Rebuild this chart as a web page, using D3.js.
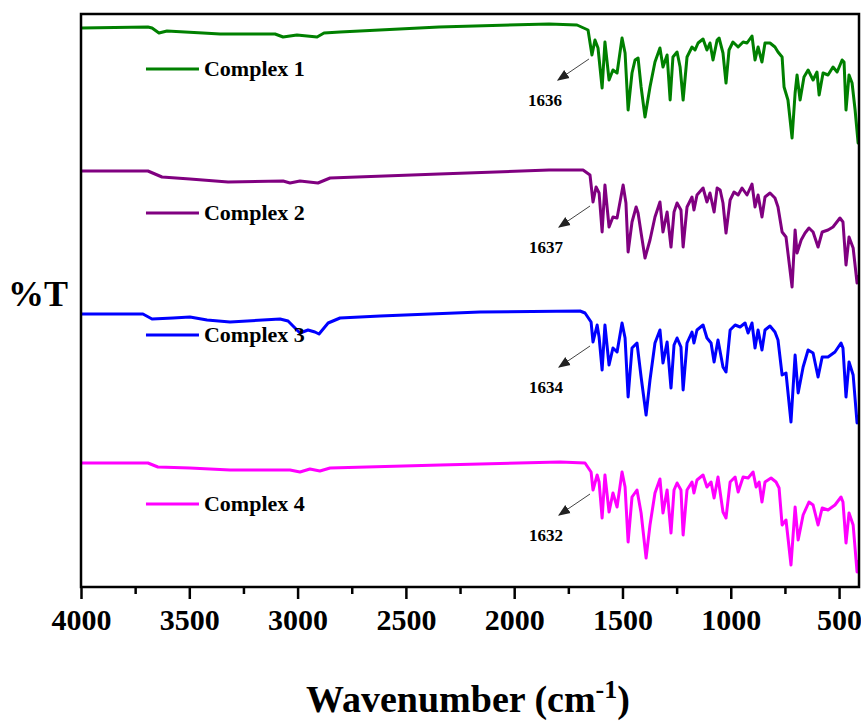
<!DOCTYPE html>
<html>
<head>
<meta charset="utf-8">
<script src="https://cdn.jsdelivr.net/npm/d3@7"></script>
<style>
  body { margin: 0; background: #fff; }
  svg text { font-family: "Liberation Serif", "Times New Roman", serif; font-weight: bold; }
</style>
</head>
<body>
<svg id="chart" width="861" height="722"></svg>
<script>
// x ticks (wavenumber, cm-1)
const majorTicks = [4000, 3500, 3000, 2500, 2000, 1500, 1000, 500];
const minorTicks = [3750, 3250, 2750, 2250, 1750, 1250, 750];

const seriesNames = ["Complex 1", "Complex 2", "Complex 3", "Complex 4"];
const seriesColors = ["#008000", "#800080", "#0000ff", "#ff00ff"];

// [wavenumber, stacked %T]
const complex1 = [
  [4000, 55.9], [3691, 56.0], [3672, 55.9], [3640, 55.4], [3603, 55.6], [3437, 55.4], [3358, 55.3],
  [3104, 55.3], [3067, 55.0], [3003, 55.2], [2910, 55.0], [2878, 55.4], [2804, 55.5], [2347, 56.0],
  [1839, 56.3], [1710, 56.2], [1659, 55.7], [1641, 53.2], [1627, 54.7], [1613, 53.9], [1594, 49.9],
  [1581, 54.5], [1562, 50.7], [1544, 51.7], [1525, 51.4], [1502, 54.9], [1488, 53.4], [1474, 47.7],
  [1456, 51.4], [1442, 52.7], [1428, 52.9], [1414, 50.0], [1396, 47.0], [1373, 50.0], [1350, 52.5],
  [1327, 53.9], [1313, 52.0], [1294, 53.2], [1280, 48.7], [1267, 53.0], [1248, 53.5], [1234, 52.0],
  [1220, 48.7], [1202, 53.0], [1179, 54.0], [1165, 53.7], [1151, 54.4], [1128, 54.8], [1110, 53.7],
  [1096, 54.4], [1082, 52.7], [1063, 54.7], [1054, 54.9], [1036, 53.4], [1022, 50.4], [1008, 53.7],
  [990, 54.5], [966, 54.0], [943, 54.5], [925, 54.4], [902, 55.1], [888, 52.7], [874, 54.0],
  [856, 52.5], [842, 54.4], [819, 54.4], [796, 54.0], [782, 53.5], [763, 53.0], [754, 50.0],
  [736, 48.7], [717, 44.9], [703, 49.4], [694, 51.2], [680, 48.7], [662, 51.0], [643, 51.7],
  [620, 50.7], [602, 51.5], [592, 49.2], [574, 51.4], [551, 51.2], [528, 52.0], [509, 51.5],
  [486, 52.7], [477, 52.5], [468, 47.7], [454, 51.2], [440, 50.4], [426, 47.7], [412, 44.4], [408, 45.2]
];
const complex2 = [
  [4000, 41.6], [3691, 41.6], [3626, 41.0], [3497, 40.8], [3321, 40.5], [3067, 40.6], [3035, 40.4],
  [2989, 40.6], [2906, 40.4], [2850, 40.9], [2347, 41.3], [1839, 41.7], [1682, 41.7], [1650, 41.2],
  [1636, 38.5], [1622, 40.0], [1608, 39.4], [1594, 35.5], [1581, 40.2], [1562, 36.0], [1544, 37.0],
  [1525, 36.9], [1497, 40.2], [1484, 38.4], [1474, 33.5], [1456, 36.5], [1437, 38.0], [1428, 37.4],
  [1414, 35.4], [1396, 32.9], [1373, 34.7], [1350, 37.0], [1327, 38.5], [1313, 35.5], [1294, 37.5],
  [1276, 34.0], [1262, 37.5], [1248, 38.4], [1230, 37.7], [1220, 34.0], [1202, 38.0], [1179, 39.0],
  [1170, 37.7], [1156, 39.2], [1128, 39.9], [1110, 38.5], [1096, 39.4], [1077, 37.5], [1063, 39.9],
  [1049, 39.7], [1036, 38.4], [1022, 35.4], [1003, 38.7], [985, 39.5], [966, 39.2], [948, 39.9],
  [925, 39.2], [902, 40.3], [888, 38.0], [874, 39.2], [856, 37.0], [842, 39.0], [819, 39.4],
  [796, 38.9], [782, 38.0], [763, 35.5], [745, 35.0], [717, 30.0], [703, 35.7], [694, 33.4],
  [675, 34.7], [657, 35.4], [639, 35.9], [620, 35.5], [597, 34.0], [578, 35.5], [551, 35.7],
  [528, 36.0], [496, 36.9], [482, 36.5], [468, 32.2], [454, 35.0], [435, 33.9], [417, 30.4], [408, 31.2]
];
const complex3 = [
  [4000, 27.3], [3714, 27.3], [3672, 26.8], [3575, 26.9], [3497, 27.0], [3418, 26.7], [3312, 26.5],
  [3081, 26.8], [3044, 26.6], [2989, 25.4], [2952, 25.7], [2920, 25.5], [2901, 25.3], [2859, 26.4],
  [2804, 26.9], [2619, 27.1], [2158, 27.5], [1696, 27.6], [1673, 27.4], [1645, 26.5], [1636, 24.5],
  [1617, 26.2], [1608, 25.0], [1594, 21.7], [1581, 26.2], [1562, 22.2], [1544, 23.9], [1525, 23.5],
  [1502, 26.4], [1488, 24.9], [1474, 19.0], [1456, 23.9], [1433, 24.4], [1414, 21.0], [1391, 17.2],
  [1373, 20.7], [1350, 24.4], [1327, 25.7], [1313, 22.4], [1294, 24.5], [1276, 19.9], [1262, 24.2],
  [1248, 24.9], [1230, 24.0], [1220, 19.7], [1202, 24.4], [1179, 25.5], [1170, 24.4], [1156, 25.7],
  [1128, 26.2], [1110, 24.9], [1091, 24.4], [1077, 22.5], [1059, 24.7], [1036, 22.0], [1022, 21.5],
  [1003, 25.7], [980, 26.2], [957, 26.0], [934, 26.4], [920, 25.4], [902, 26.4], [888, 23.9],
  [874, 25.7], [856, 23.7], [842, 25.7], [819, 26.1], [796, 25.5], [782, 24.7], [763, 21.2],
  [745, 21.4], [722, 16.5], [703, 23.2], [689, 19.4], [666, 22.0], [643, 23.7], [620, 23.4],
  [597, 21.0], [578, 23.0], [551, 23.0], [519, 23.5], [491, 24.4], [482, 23.9], [468, 19.0],
  [454, 22.5], [435, 21.2], [417, 16.4], [408, 17.2]
];
const complex4 = [
  [4000, 12.4], [3691, 12.4], [3645, 12.0], [3497, 11.9], [3312, 11.7], [3035, 11.7], [2989, 11.5],
  [2943, 11.8], [2897, 11.6], [2850, 11.9], [2342, 12.2], [1788, 12.5], [1673, 12.4], [1645, 11.5],
  [1636, 9.7], [1617, 11.2], [1608, 10.5], [1594, 6.9], [1581, 11.2], [1562, 7.5], [1544, 9.4],
  [1525, 8.0], [1502, 11.5], [1488, 10.0], [1474, 4.5], [1456, 9.0], [1433, 9.7], [1414, 7.4],
  [1391, 2.9], [1373, 6.2], [1350, 9.4], [1327, 10.8], [1313, 7.4], [1294, 9.7], [1276, 5.4],
  [1262, 9.7], [1248, 10.4], [1230, 9.7], [1220, 5.2], [1202, 9.7], [1179, 10.5], [1170, 9.4],
  [1156, 10.7], [1128, 11.2], [1110, 10.0], [1091, 10.5], [1077, 8.9], [1059, 11.0], [1036, 7.5],
  [1022, 6.9], [1003, 10.5], [980, 11.0], [966, 9.5], [943, 11.0], [920, 10.9], [897, 11.5],
  [883, 10.0], [869, 10.5], [856, 8.5], [842, 10.5], [814, 10.9], [791, 10.5], [777, 9.9],
  [763, 6.2], [745, 6.7], [722, 2.2], [703, 8.0], [689, 4.7], [666, 7.2], [639, 8.5], [620, 8.2],
  [597, 6.2], [578, 7.9], [551, 7.7], [519, 8.2], [491, 9.0], [482, 8.5], [468, 4.4], [454, 7.4],
  [435, 6.2], [417, 1.5], [408, 2.7]
];
const allSeries = [complex1, complex2, complex3, complex4];

// peak labels (C=O band) and where the legend sits (%T level)
const peakLabels = ["1636", "1637", "1634", "1632"];
const peakWn = [1641, 1636, 1636, 1636];
const legendLevel = [51.8, 37.4, 25.2, 8.3];

const svg = d3.select("#chart");
const margin = { top: 14, right: 2, bottom: 135, left: 81 };
const width = 861 - margin.left - margin.right;
const height = 722 - margin.top - margin.bottom;

const g = svg.append("g").attr("transform", `translate(${margin.left},${margin.top})`);

const x = d3.scaleLinear().domain([4000, 408]).range([0, width]);
const y = d3.scaleLinear().domain([0, 57.3]).range([height, 0]);

const clip = svg.append("defs").append("clipPath").attr("id", "clip")
  .append("rect").attr("width", width).attr("height", height);

const line = d3.line().x(d => x(d[0])).y(d => y(d[1]));

g.append("g").attr("clip-path", "url(#clip)")
  .selectAll("path")
  .data(allSeries)
  .enter()
  .append("path")
  .attr("d", line)
  .attr("fill", "none")
  .attr("stroke", (d, i) => seriesColors[i])
  .attr("stroke-width", 3)
  .attr("stroke-linejoin", "round");

// frame
g.append("rect")
  .attr("width", width).attr("height", height)
  .attr("fill", "none").attr("stroke", "#000").attr("stroke-width", 2.5);

// bottom axis, major + minor ticks
const xAxis = g.append("g").attr("transform", `translate(0,${height})`)
  .call(d3.axisBottom(x).tickValues(majorTicks).tickSize(12).tickPadding(10).tickFormat(d3.format("d")));
xAxis.select(".domain").remove();
xAxis.selectAll(".tick line").attr("stroke-width", 2.5);
xAxis.selectAll("text").attr("font-size", 30).attr("fill", "#000")
  .attr("font-family", "Liberation Serif, Times New Roman, serif");

g.append("g").attr("transform", `translate(0,${height})`)
  .call(d3.axisBottom(x).tickValues(minorTicks).tickSize(7).tickFormat(""))
  .call(a => a.select(".domain").remove())
  .selectAll(".tick line").attr("stroke-width", 2.5);

// axis titles
const xTitle = svg.append("text")
  .attr("x", 468).attr("y", 712)
  .attr("text-anchor", "middle")
  .attr("font-size", 38);
xTitle.append("tspan").text("Wavenumber (cm");
xTitle.append("tspan").attr("font-size", 26).attr("dy", -14).text("-1");
xTitle.append("tspan").attr("dy", 14).text(")");

svg.append("text")
  .attr("x", 8).attr("y", 306)
  .attr("font-size", 36)
  .text("%T");

// legend
const legend = g.selectAll(".legend")
  .data(seriesNames)
  .enter()
  .append("g")
  .attr("class", "legend")
  .attr("transform", (d, i) => `translate(${x(3700)},${y(legendLevel[i])})`);
legend.append("line")
  .attr("x1", 0).attr("x2", 53)
  .attr("stroke", (d, i) => seriesColors[i]).attr("stroke-width", 3);
legend.append("text")
  .attr("x", 58).attr("y", 7)
  .attr("font-size", 22)
  .text(d => d);

// peak annotations with arrows
svg.append("defs").append("marker")
  .attr("id", "head").attr("viewBox", "0 0 10 10")
  .attr("refX", 9).attr("refY", 5)
  .attr("markerWidth", 12).attr("markerHeight", 12)
  .attr("markerUnits", "userSpaceOnUse")
  .attr("orient", "auto")
  .append("path").attr("d", "M0,1 L10,5 L0,9 Z").attr("fill", "#222");

const ann = g.selectAll(".ann")
  .data(peakLabels)
  .enter()
  .append("g")
  .attr("class", "ann")
  .attr("transform", (d, i) => {
    const pt = allSeries[i].find(p => p[0] === peakWn[i]);
    return `translate(${x(pt[0]) - 3},${y(pt[1]) + 4})`;
  });
ann.append("line")
  .attr("x1", 0).attr("y1", 0).attr("x2", -31).attr("y2", 21)
  .attr("stroke", "#444").attr("stroke-width", 1)
  .attr("marker-end", "url(#head)");
ann.append("text")
  .attr("x", -44).attr("y", 47)
  .attr("text-anchor", "middle")
  .attr("font-size", 17)
  .text(d => d);
</script>
</body>
</html>
